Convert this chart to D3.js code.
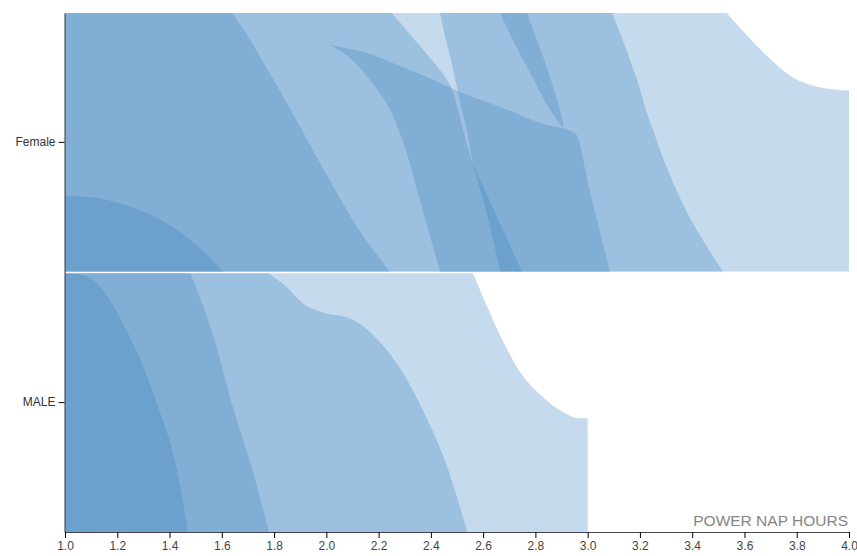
<!DOCTYPE html>
<html><head><meta charset="utf-8">
<script src="https://cdn.jsdelivr.net/npm/d3@7"></script>
<style>body{margin:0;background:#fff}svg text{font-family:Arial,"Liberation Sans",sans-serif}</style>
</head><body><svg id="chart" width="857" height="556"></svg>
<script>
const groups = ["Female", "MALE"];
const xTicks = [1.0,1.2,1.4,1.6,1.8,2.0,2.2,2.4,2.6,2.8,3.0,3.2,3.4,3.6,3.8,4.0];
const xTitle = "POWER NAP HOURS";

// vertical series: [hours, share of band]
const femaleA = [[1.0,0.295],[1.134,0.283],[1.26,0.248],[1.39,0.186],[1.52,0.089],[1.605,0]];
const femaleB = [[1.0,1.25],[1.45,1.2],[1.639,1.0],[1.822,0.70],[1.987,0.40],[2.12,0.17],[2.243,0]];
const femaleC = [[1.0,1.6],[3.3,1.5],[3.45,1.09],[3.532,1.0],[3.608,0.915],[3.685,0.835],[3.784,0.752],[3.887,0.713],[4.0,0.70]];
// horizontal series: [share of band, hours from, hours to]
const femaleD = [[1,1,2.251],[0.895,1,2.339],[0.818,1,2.404],[0.729,1,2.469],[0.625,1,2.504],[0.548,1,2.523],[0.451,1,2.550],[0.238,1,2.642],[0,1,2.749]];
const femaleE = [[1,2.435,3.093],[0.895,2.458,3.135],[0.818,2.477,3.162],[0.729,2.496,3.193],[0.625,2.519,3.223],[0.548,2.538,3.250],[0.451,2.554,3.284],[0.238,2.611,3.376],[0,2.665,3.518]];
const femaleF = [[1,2.665,2.768],[0.895,2.714,2.806],[0.799,2.764,2.841],[0.702,2.814,2.871],[0.625,2.856,2.894],[0.559,2.902,2.909]];
// band series: [hours, share low, share high]
const femaleG = [[2.014,0.876,0.876],[2.091,0.826,0.861],[2.167,0.741,0.842],[2.244,0.625,0.811],[2.301,0.48,0.787],[2.358,0.277,0.764],[2.435,0,0.729],[2.512,-0.277,0.695],[2.665,-0.83,0.637],[2.818,-1.38,0.575],[2.952,-1.86,0.536],[3.009,-2.07,0.308],[3.085,-2.34,0]];

const maleA = [[1.0,1.0],[1.077,0.99],[1.25,0.75],[1.354,0.49],[1.43,0.233],[1.47,0]];
const maleB = [[1.0,1.3],[1.4,1.2],[1.48,1.0],[1.57,0.75],[1.64,0.49],[1.72,0.23],[1.78,0]];
const maleC = [[1.0,1.2],[1.6,1.15],[1.78,1.0],[1.85,0.945],[1.91,0.883],[2.0,0.845],[2.08,0.83],[2.19,0.75],[2.29,0.62],[2.36,0.49],[2.42,0.36],[2.47,0.23],[2.51,0.1],[2.54,0]];
const maleD = [[1.0,1.2],[2.4,1.15],[2.56,1.0],[2.61,0.883],[2.67,0.75],[2.74,0.62],[2.83,0.52],[2.90,0.467],[2.97,0.44],[3.0,0.44]];

const shapes = [
  {g:"Female", kind:"v", data:femaleC},
  {g:"Female", kind:"v", data:femaleB},
  {g:"Female", kind:"h", data:femaleD},
  {g:"Female", kind:"v", data:femaleA},
  {g:"Female", kind:"h", data:femaleE},
  {g:"Female", kind:"h", data:femaleF},
  {g:"Female", kind:"b", data:femaleG},
  {g:"MALE", kind:"v", data:maleD},
  {g:"MALE", kind:"v", data:maleC},
  {g:"MALE", kind:"v", data:maleB},
  {g:"MALE", kind:"v", data:maleA}
];

const svg = d3.select("#chart");
const x = d3.scaleLinear().domain([1,4]).range([65,849]);
const y = d3.scaleBand().domain(groups).range([13,532]).paddingInner(0.006);

const defs = svg.append("defs");
groups.forEach((g,i)=>{
  defs.append("clipPath").attr("id","clip"+i).append("rect")
    .attr("x",x(1)).attr("y",y(g)).attr("width",x(4)-x(1)).attr("height",y.bandwidth());
});

const fill = "rgb(62,134,192)", op = 0.3;
shapes.forEach(s=>{
  const gi = groups.indexOf(s.g);
  const v = d3.scaleLinear().domain([0,1]).range([y(s.g)+y.bandwidth(), y(s.g)]);
  let gen;
  if (s.kind==="v") gen = d3.area().x(d=>x(d[0])).y0(v(0)).y1(d=>v(d[1])).curve(d3.curveMonotoneX);
  else if (s.kind==="b") gen = d3.area().x(d=>x(d[0])).y0(d=>v(d[1])).y1(d=>v(d[2])).curve(d3.curveMonotoneX);
  else gen = d3.area().y(d=>v(d[0])).x0(d=>x(d[1])).x1(d=>x(d[2])).curve(d3.curveMonotoneY);
  svg.append("path").attr("clip-path","url(#clip"+gi+")")
    .attr("d",gen(s.data)).attr("fill",fill).attr("fill-opacity",op);
});

const xAxis = svg.append("g").attr("transform","translate(0,532)")
  .call(d3.axisBottom(x).tickValues(xTicks).tickFormat(d3.format(".1f")).tickSizeOuter(0));
xAxis.selectAll("text").attr("font-size",12).attr("fill","#444").attr("font-family",null);
xAxis.select(".domain").attr("stroke","#445");
const yAxis = svg.append("g").attr("transform","translate(64.5,0)")
  .call(d3.axisLeft(y).tickSizeOuter(0));
yAxis.selectAll("text").attr("font-size",12).attr("fill","#333").attr("font-family",null);
yAxis.select(".domain").attr("stroke","#334");

svg.append("text").attr("x",848).attr("y",526).attr("text-anchor","end")
  .attr("font-size",15.5).attr("fill","#858585").text(xTitle);
</script></body></html>
